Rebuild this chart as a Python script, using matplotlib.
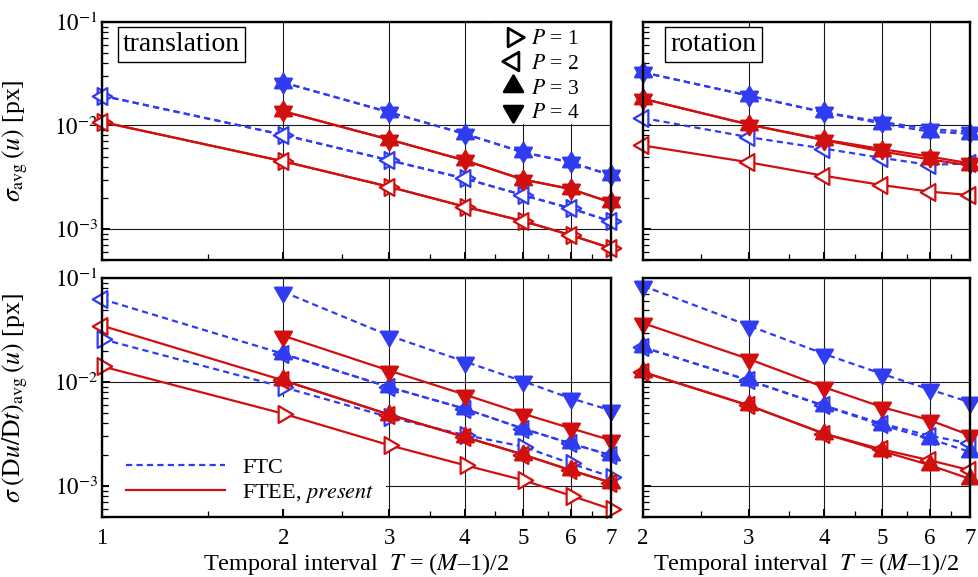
import numpy as np
import matplotlib
matplotlib.use("Agg")
import matplotlib.pyplot as plt
from matplotlib.path import Path
from matplotlib.markers import MarkerStyle
from matplotlib.lines import Line2D
from matplotlib.patches import Rectangle
from matplotlib.ticker import NullFormatter, FixedLocator

plt.rcParams['font.family'] = ['Liberation Serif', 'DejaVu Serif']
plt.rcParams['mathtext.fontset'] = 'stix'

nan = np.nan
# ---------------- data ----------------
T_trans = [1, 2, 3, 4, 5, 6, 7]
T_rot = [2, 3, 4, 5, 6, 7]

# sigma_avg(u), translation
trans_u_ftc_p1 = [1.94e-2, 8.1e-3, 4.6e-3, 3.07e-3, 2.12e-3, 1.58e-3, 1.18e-3]
trans_u_ftc_p2 = [1.94e-2, 8.1e-3, 4.6e-3, 3.07e-3, 2.12e-3, 1.58e-3, 1.18e-3]
trans_u_ftc_p3 = [nan, 2.6e-2, 1.34e-2, 8.3e-3, 5.5e-3, 4.4e-3, 3.3e-3]
trans_u_ftc_p4 = [nan, 2.6e-2, 1.34e-2, 8.3e-3, 5.5e-3, 4.4e-3, 3.3e-3]
trans_u_ftee_p1 = [1.08e-2, 4.5e-3, 2.55e-3, 1.64e-3, 1.19e-3, 8.7e-4, 6.5e-4]
trans_u_ftee_p2 = [1.08e-2, 4.5e-3, 2.55e-3, 1.64e-3, 1.19e-3, 8.7e-4, 6.5e-4]
trans_u_ftee_p3 = [nan, 1.37e-2, 7.3e-3, 4.6e-3, 3.0e-3, 2.43e-3, 1.8e-3]
trans_u_ftee_p4 = [nan, 1.37e-2, 7.3e-3, 4.6e-3, 3.0e-3, 2.43e-3, 1.8e-3]

# sigma_avg(u), rotation
rot_u_ftc_p2 = [1.18e-2, 7.7e-3, 5.97e-3, 4.85e-3, 4.15e-3, 4.3e-3]
rot_u_ftc_p3 = [3.26e-2, 1.94e-2, 1.34e-2, 1.04e-2, 8.7e-3, 8.3e-3]
rot_u_ftc_p4 = [3.26e-2, 1.94e-2, 1.34e-2, 1.08e-2, 9.2e-3, 8.7e-3]
rot_u_ftee_p2 = [6.4e-3, 4.4e-3, 3.26e-3, 2.65e-3, 2.29e-3, 2.12e-3]
rot_u_ftee_p3 = [1.81e-2, 1.02e-2, 7.2e-3, 5.6e-3, 4.7e-3, 4.1e-3]
rot_u_ftee_p4 = [1.81e-2, 1.02e-2, 7.3e-3, 5.9e-3, 5.0e-3, 4.3e-3]

# sigma (Du/Dt)_avg(u), translation
trans_a_ftc_p1 = [2.6e-2, 8.95e-3, 4.6e-3, 3.1e-3, 2.4e-3, 1.65e-3, 1.23e-3]
trans_a_ftc_p2 = [6.3e-2, 1.87e-2, 8.95e-3, 5.55e-3, 3.57e-3, 2.57e-3, 1.98e-3]
trans_a_ftc_p3 = [nan, 1.87e-2, 8.95e-3, 5.55e-3, 3.57e-3, 2.57e-3, 1.98e-3]
trans_a_ftc_p4 = [nan, 7.4e-2, 2.8e-2, 1.58e-2, 1.02e-2, 7.0e-3, 5.35e-3]
trans_a_ftee_p1 = [1.42e-2, 4.97e-3, 2.47e-3, 1.59e-3, 1.14e-3, 8.1e-4, 6.0e-4]
trans_a_ftee_p2 = [3.5e-2, 1.04e-2, 4.87e-3, 2.97e-3, 2.01e-3, 1.42e-3, 1.08e-3]
trans_a_ftee_p3 = [nan, 1.04e-2, 4.87e-3, 2.97e-3, 2.01e-3, 1.42e-3, 1.08e-3]
trans_a_ftee_p4 = [nan, 2.8e-2, 1.29e-2, 7.6e-3, 4.97e-3, 3.6e-3, 2.76e-3]

# sigma (Du/Dt)_avg(u), rotation
rot_a_ftc_p2 = [2.17e-2, 1.04e-2, 5.97e-3, 3.98e-3, 3.05e-3, 2.57e-3]
rot_a_ftc_p3 = [2.17e-2, 1.04e-2, 5.9e-3, 3.85e-3, 2.85e-3, 2.13e-3]
rot_a_ftc_p4 = [8.45e-2, 3.5e-2, 1.87e-2, 1.2e-2, 8.5e-3, 6.4e-3]
rot_a_ftee_p2 = [1.25e-2, 5.97e-3, 3.2e-3, 2.25e-3, 1.77e-3, 1.42e-3]
rot_a_ftee_p3 = [1.25e-2, 5.97e-3, 3.2e-3, 2.17e-3, 1.59e-3, 1.17e-3]
rot_a_ftee_p4 = [3.7e-2, 1.67e-2, 8.95e-3, 5.75e-3, 4.3e-3, 3.08e-3]

x_major_trans = [1, 2, 3, 4, 5, 6, 7]
x_major_rot = [2, 3, 4, 5, 6, 7]
x_minor = [1.5, 2.5, 3.5, 4.5, 5.5, 6.5]
y_ticks = [1e-3, 1e-2, 1e-1]
y_ticklabels = [r'$10^{-3}$', r'$10^{-2}$', r'$10^{-1}$']

# ---------------- styling ----------------
BLUE = '#2f3cf2'
RED = '#d20f0f'


def tri(deg):
    a = np.deg2rad(np.array([0, 120, 240]) + deg)
    v = np.column_stack([np.cos(a), np.sin(a)])
    v = np.vstack([v, v[:1]])
    return MarkerStyle(Path(v, [Path.MOVETO, Path.LINETO, Path.LINETO, Path.CLOSEPOLY]),
                       joinstyle='miter')


M_RIGHT = tri(0)
M_LEFT = tri(180)
M_UP = tri(90)
M_DOWN = tri(270)

P_STYLE = {1: (M_RIGHT, False), 2: (M_LEFT, False), 3: (M_UP, True), 4: (M_DOWN, True)}
METHOD = {'ftc': dict(color=BLUE, ls=(0, (2.8, 1.9))), 'ftee': dict(color=RED, ls='-')}

fig = plt.figure(figsize=(9.79, 5.77), dpi=100)
W, H = 979.0, 577.0


def add_ax(l, r, t, b):
    return fig.add_axes([l / W, 1 - b / H, (r - l) / W, (b - t) / H])


ax_tl = add_ax(102, 611, 22, 260)
ax_tr = add_ax(643, 970, 22, 260)
ax_bl = add_ax(102, 611, 278.3, 517.3)
ax_br = add_ax(643, 970, 278.3, 517.3)


def draw(ax, T, series):
    for method in ['ftc', 'ftee']:
        for P, vals in series[method]:
            m, filled = P_STYLE[P]
            st = METHOD[method]
            ax.plot(T, vals, color=st['color'], ls=st['ls'], lw=1.6,
                    marker=m, ms=14, mew=1.6,
                    mfc=st['color'] if filled else 'white', mec=st['color'],
                    clip_on=False, zorder=3)


draw(ax_tl, T_trans, {'ftc': [(1, trans_u_ftc_p1), (2, trans_u_ftc_p2), (3, trans_u_ftc_p3), (4, trans_u_ftc_p4)],
                      'ftee': [(1, trans_u_ftee_p1), (2, trans_u_ftee_p2), (3, trans_u_ftee_p3), (4, trans_u_ftee_p4)]})
draw(ax_tr, T_rot, {'ftc': [(2, rot_u_ftc_p2), (3, rot_u_ftc_p3), (4, rot_u_ftc_p4)],
                    'ftee': [(2, rot_u_ftee_p2), (3, rot_u_ftee_p3), (4, rot_u_ftee_p4)]})
draw(ax_bl, T_trans, {'ftc': [(1, trans_a_ftc_p1), (2, trans_a_ftc_p2), (3, trans_a_ftc_p3), (4, trans_a_ftc_p4)],
                      'ftee': [(1, trans_a_ftee_p1), (2, trans_a_ftee_p2), (3, trans_a_ftee_p3), (4, trans_a_ftee_p4)]})
draw(ax_br, T_rot, {'ftc': [(2, rot_a_ftc_p2), (3, rot_a_ftc_p3), (4, rot_a_ftc_p4)],
                    'ftee': [(2, rot_a_ftee_p2), (3, rot_a_ftee_p3), (4, rot_a_ftee_p4)]})

for ax, xmaj in [(ax_tl, x_major_trans), (ax_bl, x_major_trans), (ax_tr, x_major_rot), (ax_br, x_major_rot)]:
    ax.set_xscale('log')
    ax.set_yscale('log')
    ax.set_xlim(xmaj[0], xmaj[-1])
    ax.set_ylim(5e-4, 1e-1)
    ax.xaxis.set_major_locator(FixedLocator(xmaj))
    ax.xaxis.set_minor_locator(FixedLocator([v for v in x_minor if xmaj[0] < v < xmaj[-1]]))
    ax.set_xticklabels([str(v) for v in xmaj])
    ax.xaxis.set_minor_formatter(NullFormatter())
    ax.set_yticks(y_ticks)
    ax.set_yticklabels(y_ticklabels)
    ax.yaxis.set_minor_formatter(NullFormatter())
    ax.grid(True, which='major', color='#1a1a1a', lw=0.8)
    ax.tick_params(which='major', direction='in', length=6, width=1.4, labelsize=16.5, pad=3)
    ax.tick_params(axis='x', which='major', pad=8)
    ax.tick_params(which='minor', direction='in', length=4, width=0.9)
    for s in ax.spines.values():
        s.set_linewidth(1.7)
        s.set_zorder(4)

for ax in [ax_tl, ax_tr]:
    ax.tick_params(axis='x', labelbottom=False)
for ax in [ax_tr, ax_br]:
    ax.tick_params(axis='y', labelleft=False)

# panel titles
box = dict(boxstyle='square,pad=0.18', facecolor='white', edgecolor='black', lw=1.0)
ax_tl.text((181.5 - 102) / 509, (260 - 45) / 238, 'translation', transform=ax_tl.transAxes,
           ha='center', va='center', fontsize=20, bbox=box, zorder=5)
ax_tr.text((713.5 - 643) / 327, (260 - 45) / 238, 'rotation', transform=ax_tr.transAxes,
           ha='center', va='center', fontsize=20, bbox=box, zorder=5)

# axis labels
ax_tl.set_ylabel(r'$\sigma_{\mathrm{avg}}\,(u)$ [px]', fontsize=18.5)
ax_bl.set_ylabel(r'$\sigma\;(\mathrm{D}u/\mathrm{D}t)_{\mathrm{avg}}\,(u)$ [px]', fontsize=18.5)
for ax in [ax_tl, ax_bl]:
    ax.yaxis.set_label_coords(-0.142, 0.5)
xl = 'Temporal interval  $T$ = ($M$\u20131)/2'
ax_bl.set_xlabel(xl, fontsize=17.5)
ax_br.set_xlabel(xl, fontsize=17.5)
ax_bl.xaxis.set_label_coords(0.5, -0.14)
ax_br.xaxis.set_label_coords(0.5, -0.14)

# legend backgrounds (hide gridlines)
ax_tl.add_patch(Rectangle(((492 - 102) / 509, (260 - 124) / 238), 1 - (492 - 102) / 509 - 0.002,
                          (124 - 22) / 238, transform=ax_tl.transAxes, facecolor='white',
                          edgecolor='none', zorder=2.2))
ax_bl.add_patch(Rectangle((0.014, 0.035), (386 - 102) / 509 - 0.014, (517.3 - 397) / 239 - 0.035,
                          transform=ax_bl.transAxes, facecolor='white', edgecolor='none', zorder=2.2))

# P legend
hp = []
for P, lab in zip([1, 2, 3, 4], [r'$P$ = 1', r'$P$ = 2', r'$P$ = 3', r'$P$ = 4']):
    m, filled = P_STYLE[P]
    hp.append(Line2D([], [], ls='none', marker=m, ms=15.5, mew=2.0, mec='black',
                     mfc='black' if filled else 'white', label=lab))
leg1 = ax_tl.legend(handles=hp, loc='upper left', bbox_to_anchor=((503.5 - 102) / 509, (260 - 29) / 238),
                    frameon=False, fontsize=15.5, handlelength=0.9, handletextpad=0.38,
                    labelspacing=0.22, borderpad=0, borderaxespad=0)
leg1.set_zorder(6)

# method legend
hm = [Line2D([], [], color=BLUE, ls=(0, (2.8, 1.9)), lw=1.6, label='FTC'),
      Line2D([], [], color=RED, ls='-', lw=1.6, label=r'FTEE, $\mathit{present}$')]
leg2 = ax_bl.legend(handles=hm, loc='upper left', bbox_to_anchor=((126 - 102) / 509, (517.3 - 457) / 239),
                    frameon=False, fontsize=16, handlelength=4.45, handletextpad=0.77,
                    labelspacing=0.19, borderpad=0, borderaxespad=0)
leg2.set_zorder(6)

fig.savefig('out.png', dpi=100)
